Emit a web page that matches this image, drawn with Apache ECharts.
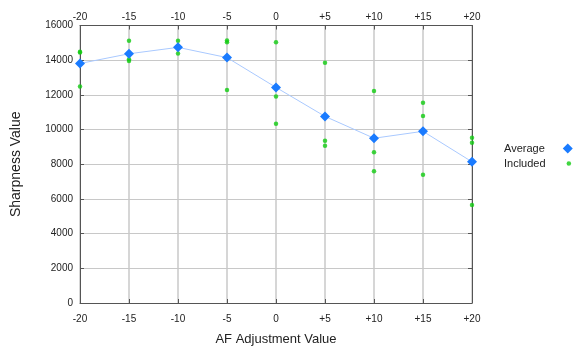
<!DOCTYPE html>
<html><head><meta charset="utf-8">
<script src="https://cdn.jsdelivr.net/npm/echarts@6/dist/echarts.min.js"></script>
<style>html,body{margin:0;padding:0;background:#fff}#c{width:586px;height:363px}</style>
</head><body><div id="c"></div>
<script>
const adjustments = [-20, -15, -10, -5, 0, 5, 10, 15, 20];
const averageValues = [13810, 14370, 14740, 14150, 12430, 10760, 9500, 9900, 8140];
const includedValues = [
  [14450, 14490, 12490],
  [15120, 14050, 13950],
  [15120, 14710, 14390],
  [15140, 15030, 12280],
  [15040, 11910, 10330],
  [13850, 9360, 9070],
  [12220, 8690, 7590],
  [11540, 10780, 7390],
  [9530, 9240, 5650]
];
const yTicks = [0, 2000, 4000, 6000, 8000, 10000, 12000, 14000, 16000];

const includedData = [];
adjustments.forEach((a, i) => includedValues[i].forEach(v => includedData.push([a, v])));
const avgData = adjustments.map((a, i) => [a, averageValues[i]]);

const FONT = 'Liberation Sans, Arial, Helvetica, sans-serif';
const fmtX = v => v > 0 ? '+' + v : String(v);
const axisLineStyle = { show: true, onZero: false, lineStyle: { color: '#555', width: 1 } };
const tickStyle = { show: true, inside: true, length: 4, lineStyle: { color: '#555' } };

const chart = echarts.init(document.getElementById('c'), null, { renderer: 'canvas' });
chart.setOption({
  animation: false,
  textStyle: { fontFamily: FONT },
  grid: { left: 80, right: 114, top: 25.5, bottom: 60, containLabel: false },
  legend: [
    { data: [{ name: 'Average', icon: 'diamond' }], orient: 'vertical', align: 'right',
      left: 504, top: 143, padding: 0, itemWidth: 10, itemHeight: 10,
      textStyle: { fontSize: 11, color: '#222', fontFamily: FONT, padding: [0, 13, 0, 0] } },
    { data: [{ name: 'Included', icon: 'circle' }], orient: 'vertical', align: 'right',
      left: 504, top: 158, padding: 0, itemWidth: 4.5, itemHeight: 4.5,
      textStyle: { fontSize: 11, color: '#222', fontFamily: FONT, padding: [0, 16, 0, 0] } }
  ],
  xAxis: [
    { type: 'value', position: 'bottom', min: -20, max: 20, interval: 5,
      name: 'AF Adjustment Value', nameLocation: 'middle', nameGap: 30,
      nameTextStyle: { fontSize: 13, color: '#222', fontFamily: FONT },
      axisLine: axisLineStyle, axisTick: tickStyle,
      axisLabel: { formatter: fmtX, fontSize: 10, color: '#222', margin: 11, fontFamily: FONT },
      splitLine: { show: true, lineStyle: { color: '#c8c8c8', width: 1.5 } } },
    { type: 'value', position: 'top', min: -20, max: 20, interval: 5,
      axisLine: axisLineStyle, axisTick: tickStyle,
      axisLabel: { formatter: fmtX, fontSize: 10, color: '#222', margin: 3, fontFamily: FONT },
      splitLine: { show: false } }
  ],
  yAxis: [
    { type: 'value', position: 'left', min: 0, max: 16000, interval: 2000,
      name: 'Sharpness Value', nameLocation: 'middle', nameGap: 57,
      nameTextStyle: { fontSize: 14, color: '#222', fontFamily: FONT },
      axisLine: axisLineStyle, axisTick: tickStyle,
      axisLabel: { fontSize: 10, color: '#222', margin: 7, fontFamily: FONT,
        formatter: v => yTicks.includes(v) ? String(v) : '' },
      splitLine: { show: true, lineStyle: { color: '#c8c8c8', width: 1.2 } } },
    { type: 'value', position: 'right', min: 0, max: 16000, interval: 2000,
      axisLine: axisLineStyle, axisTick: tickStyle,
      axisLabel: { show: false }, splitLine: { show: false } }
  ],
  series: [
    { name: 'Included', type: 'scatter', data: includedData, symbol: 'circle', symbolSize: 4.5,
      itemStyle: { color: '#11cc11' }, z: 3 },
    { name: 'Average', type: 'line', data: avgData, symbol: 'diamond', symbolSize: 10,
      itemStyle: { color: '#1a7bff' }, lineStyle: { color: '#a9c9ff', width: 1 }, z: 4 }
  ]
});
</script></body></html>
